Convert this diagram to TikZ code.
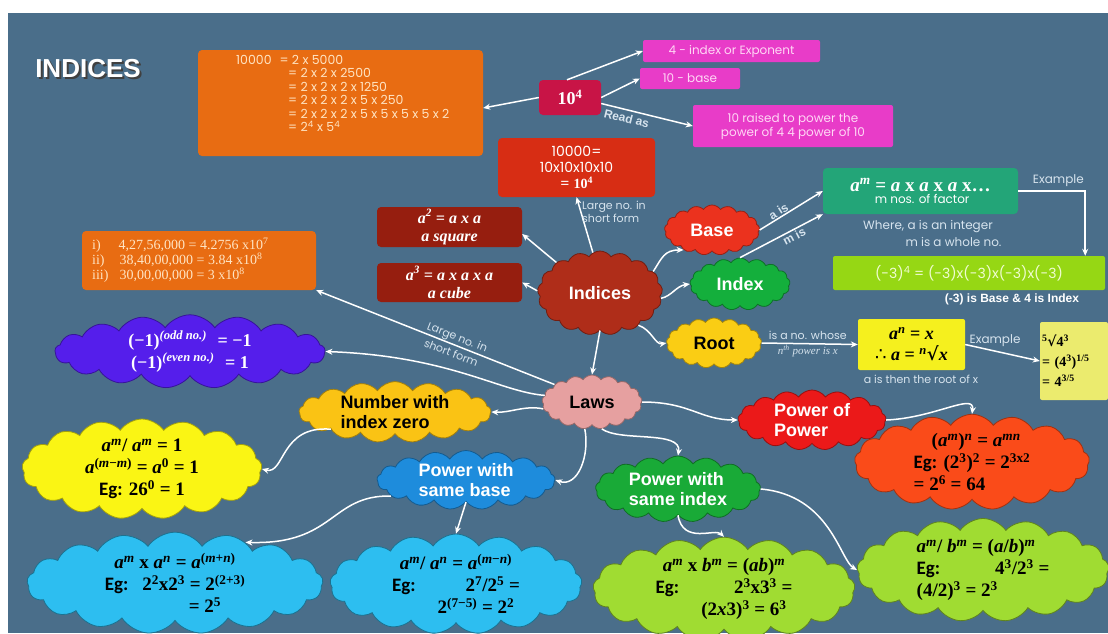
\documentclass[tikz,border=0pt]{standalone}
\usepackage{fontspec}
\newfontfamily\labfont{Liberation Sans}
\newfontfamily\gothic{Poppins}
\newfontfamily\calfont{Carlito}
\newfontfamily\mth{Liberation Serif}
\newfontfamily\dvs{DejaVu Serif}
\newfontfamily\dvsans{DejaVu Sans}
\usetikzlibrary{shapes.symbols,arrows.meta,calc}
\newcommand\setfs[2]{\fontsize{#1}{#2}\selectfont}
\newcommand\V[1]{\textit{#1}}
\newcommand\su[1]{\textsuperscript{#1}}
\definecolor{bg}{RGB}{74,110,138}
\definecolor{orng}{RGB}{232,108,18}
\definecolor{cream}{RGB}{255,228,195}
\definecolor{crim}{RGB}{200,20,70}
\definecolor{pnk}{RGB}{232,60,200}
\definecolor{pnktxt}{RGB}{255,215,245}
\definecolor{redbox}{RGB}{215,45,20}
\definecolor{indc}{RGB}{175,45,25}
\definecolor{dred}{RGB}{150,30,15}
\definecolor{lighttxt}{RGB}{215,228,238}
\definecolor{tealc}{RGB}{35,165,120}
\definecolor{gbox}{RGB}{150,215,20}
\definecolor{gboxtxt}{RGB}{240,252,210}
\definecolor{ybox}{RGB}{245,240,30}
\definecolor{pyb}{RGB}{235,235,110}
\definecolor{basec}{RGB}{235,50,30}
\definecolor{idxc}{RGB}{20,175,60}
\definecolor{rootc}{RGB}{250,205,20}
\definecolor{lawc}{RGB}{230,160,160}
\definecolor{purp}{RGB}{85,30,235}
\definecolor{numc}{RGB}{250,195,20}
\definecolor{yelc}{RGB}{250,245,20}
\definecolor{psbc}{RGB}{30,140,220}
\definecolor{cyc}{RGB}{45,190,240}
\definecolor{popc}{RGB}{235,25,25}
\definecolor{orcc}{RGB}{250,75,25}
\definecolor{psic}{RGB}{25,170,55}
\definecolor{lgc}{RGB}{160,220,50}
\begin{document}
\begin{tikzpicture}[x=1pt,y=-1pt,
  box/.style={rounded corners=4pt, inner sep=1pt, align=center},
  pbox/.style={rounded corners=2pt, inner sep=1pt, align=center, fill=pnk, text=pnktxt, font=\gothic\setfs{12}{14}},
  cl/.style={cloud, cloud puffs=17, cloud puff arc=110, cloud ignores aspect, inner sep=0pt, align=center, line width=0.8pt},
  con/.style={draw=white, line width=1.5pt, -{Stealth[length=7pt,width=6pt]}},
  lt/.style={text=lighttxt, font=\gothic\setfs{12}{14}},
  lts/.style={text=lighttxt, font=\gothic\setfs{11}{13}},
  fml/.style={font=\mth\bfseries\setfs{19}{22}},
  cltxt/.style={font=\labfont\bfseries\setfs{18}{20}},
]
\fill[white] (0,0) rectangle (1108,633);
\useasboundingbox (0,0) rectangle (1108,633);
\fill[bg] (8,13) rectangle (1108,633);

% title (shadow drawn as offset copy inside one node)
\node[text=white, font=\labfont\bfseries\setfs{26}{30}] (title) at (88,70)
 {\makebox[0pt][l]{\hspace{2pt}\raisebox{-2pt}{\color{black!75}INDICES}}INDICES};

% big orange box
\node[box, fill=orng, minimum width=285, minimum height=106] (big) at (340.5,103) {};
\node[anchor=north west, text=cream, font=\gothic\setfs{12.5}{13.4}, inner sep=0, align=left] (bigtxt) at (236,55)
 {10000\hspace{8pt}= 2 x 5000\\
 \hspace{52pt}= 2 x 2 x 2500\\
 \hspace{52pt}= 2 x 2 x 2 x 1250\\
 \hspace{52pt}= 2 x 2 x 2 x 5 x 250\\
 \hspace{52pt}= 2 x 2 x 2 x 5 x 5 x 5 x 5 x 2\\
 \hspace{52pt}= 2\su{4} x 5\su{4}};

% 10^4 and pink boxes
\node[box, fill=crim, minimum width=62, minimum height=35, text=white, font=\mth\bfseries\setfs{18}{20}] (ten) at (570,97.5) {10\su{4}};
\node[pbox, minimum width=177, minimum height=22] (p1) at (731.5,51) {4 - index or Exponent};
\node[pbox, minimum width=100, minimum height=21] (p2) at (690,78.5) {10 - base};
\node[pbox, minimum width=200, minimum height=42] (p3) at (793,126) {10 raised to power the\\power of 4 4 power of 10};
\draw[con] (ten.west) -- ($(big.east)+(0,5)$);
\draw[con] ($(ten.north)+(-3,0)$) -- (p1.west);
\draw[con] (ten.east) -- (p2.west);
\draw[con] ($(ten.east)+(0,6)$) -- (p3.west)
  node[sloped, below, pos=0.3, text=lighttxt, font=\labfont\bfseries\setfs{12}{14}] (readas) {Read as};

% red box
\node[box, fill=redbox, minimum width=157, minimum height=59, font=\gothic\setfs{14}{16}, text=white] (tenk) at (576.5,167.5) {10000=\\10x10x10x10\\= {\mth\bfseries 10\su{4}}};

% Indices cloud
\node[cl, fill=indc, draw=indc!65!black, minimum width=125, minimum height=84, text=white, cltxt] (ind) at (600,293) {Indices};
\draw[con] (ind.100) -- (tenk.south);
\node[lts, align=left] (lbl1) at (614,212) {Large no. in\\short form};

% a^2, a^3 boxes
\node[box, fill=dred, minimum width=145, minimum height=40, text=white, font=\mth\bfseries\itshape\setfs{16}{18}] (sq) at (449.5,227) {a\su{2} = a x a\\a square};
\node[box, fill=dred, minimum width=145, minimum height=39, text=white, font=\mth\bfseries\itshape\setfs{16}{18}] (cu) at (449.5,282.5) {a\su{3} = a x a x a\\a cube};
\draw[con] (ind.145) -- ($(sq.east)+(0,7)$);
\draw[con] (ind.178) -- (cu.east);

% left orange box
\node[box, fill=orng, minimum width=234, minimum height=59] (ol) at (199,260.5) {};
\node[anchor=west, text=cream, font=\mth\setfs{14}{15}, inner sep=0, align=left] (oltxt) at (92,260.5)
 {i)\hspace{18pt}4,27,56,000 = 4.2756 x10\su{7}\\
 ii)\hspace{15pt}38,40,00,000 = 3.84 x10\su{8}\\
 iii)\hspace{11pt}30,00,00,000 = 3 x10\su{8}};

% Laws cloud
\node[cl, fill=lawc, draw=lawc!65!black, minimum width=100, minimum height=54, cltxt] (laws) at (592,402) {Laws};
\draw[con] (ind.south) -- (laws.north);
\draw[con] (laws.155) -- (ol.south east)
  node[sloped, pos=0.42, inner sep=0pt, align=center, text=lighttxt, font=\gothic\setfs{11}{17}] (lbl2) {Large no. in\\short form};

% purple cloud
\node[cl, fill=purp, draw=purp!65!black, minimum width=270, minimum height=68, text=white, font=\mth\bfseries\setfs{18}{22}] (pur) at (190,351.5)
 {(−1)\su{\itshape (odd no.)}\hspace{6pt} = −1\\(−1)\su{\itshape (even no.)}\hspace{6pt} = 1};
\draw[con] (laws.172) .. controls (500,392) and (450,356) .. (pur.east);

% number with index zero
\node[cl, fill=numc, draw=numc!65!black, minimum width=192, minimum height=56, align=left, cltxt] (num) at (395,412) {Number with\\index zero};
\draw[con] (laws.188) .. controls (525,405) and (510,413) .. (num.east);
\node[cl, fill=yelc, draw=yelc!65!black, minimum width=240, minimum height=100, fml] (yel) at (142,469)
 {\V{a}\su{\V{m}}/ \V{a}\su{\V{m}} = 1\\\V{a}\su{(\V{m}−\V{m})} = \V{a}\su{0} = 1\\{\calfont Eg:} 26\su{0} = 1};
\draw[con] (num.195) .. controls (280,425) and (285,475) .. (yel.east);

% power with same base
\node[cl, fill=psbc, draw=psbc!65!black, minimum width=178, minimum height=58, align=left, text=white, cltxt] (psb) at (466,480) {Power with\\same base};
\draw[con] (laws.255) .. controls (590,455) and (578,488) .. (psb.east);
\node[cl, fill=cyc, draw=cyc!60!black, minimum width=296, minimum height=88, fml] (cy1) at (175,583)
 {\V{a}\su{\V{m}} x \V{a}\su{\V{n}} = \V{a}\su{(\V{m}+\V{n})}\\{\calfont Eg:}\hspace{14pt}2\su{2}x2\su{3} = 2\su{(2+3)}\\\hspace{60pt}= 2\su{5}};
\node[cl, fill=cyc, draw=cyc!60!black, minimum width=252, minimum height=88, fml] (cy2) at (456,584)
 {\V{a}\su{\V{m}}/ \V{a}\su{\V{n}} = \V{a}\su{(\V{m}−\V{n})}\\{\calfont Eg:}\hspace{50pt}2\su{7}/2\su{5} =\\\hspace{40pt}2\su{(7−5)} = 2\su{2}};
\draw[con] (psb.192) .. controls (330,495) and (335,545) .. (cy1.30);
\draw[con] (psb.south) -- (cy2.north);

% power of power
\node[cl, fill=popc, draw=popc!65!black, minimum width=148, minimum height=60, align=left, text=white, cltxt] (pop) at (812,420) {Power of\\Power};
\draw[con] (laws.east) .. controls (690,402) and (700,420) .. (pop.west);
\node[cl, fill=orcc, draw=orcc!65!black, minimum width=235, minimum height=87, fml, align=left] (orc) at (972,462)
 {\hspace{18pt}(\V{a}\su{\V{m}})\su{\V{n}} = \V{a}\su{\V{mn}}\\{\calfont Eg:} (2\su{3})\su{2} = 2\su{3x2}\\= 2\su{6} = 64};
\draw[con] (pop.east) .. controls (935,418) and (975,392) .. (orc.north);

% power with same index
\node[cl, fill=psic, draw=psic!65!black, minimum width=165, minimum height=66, align=left, text=white, cltxt] (psi) at (678,489) {Power with\\same index};
\draw[con] (laws.290) .. controls (620,442) and (682,430) .. (psi.north);
\node[cl, fill=lgc, draw=lgc!60!black, minimum width=262, minimum height=86, fml] (lg1) at (724,589)
 {\V{a}\su{\V{m}} x \V{b}\su{\V{m}} = (\V{ab})\su{\V{m}}\\{\calfont Eg:}\hspace{55pt}2\su{3}x3\su{3} =\\\hspace{40pt}(2\V{x}3)\su{3} = 6\su{3}};
\node[cl, fill=lgc, draw=lgc!60!black, minimum width=252, minimum height=100, fml, align=left] (lg2) at (983,570)
 {\V{a}\su{\V{m}}/ \V{b}\su{\V{m}} = (\V{a}/\V{b})\su{\V{m}}\\{\calfont Eg:}\hspace{55pt}4\su{3}/2\su{3} =\\(4/2)\su{3} = 2\su{3}};
\draw[con] (psi.south) .. controls (683,545) and (715,528) .. (lg1.north);
\draw[con] (psi.east) .. controls (830,495) and (840,560) .. (lg2.west);

% base / index / root
\node[cl, fill=basec, draw=basec!65!black, minimum width=95, minimum height=50, text=white, cltxt] (base) at (712,230) {Base};
\node[cl, fill=idxc, draw=idxc!65!black, minimum width=100, minimum height=52, text=white, cltxt] (idx) at (740,284) {Index};
\node[cl, fill=rootc, draw=rootc!65!black, minimum width=95, minimum height=50, cltxt] (root) at (714,343) {Root};
\draw[con] (ind.22) .. controls (662,258) and (664,250) .. (base.215);
\draw[con] (ind.355) .. controls (672,296) and (676,286) .. (idx.west);
\draw[con] (ind.320) .. controls (652,330) and (655,345) .. (root.west);

% teal box and green box
\node[box, fill=tealc, minimum width=195, minimum height=46, text=white] (teal) at (920.5,191)
 {{\mth\bfseries\setfs{19}{20}\V{a}\su{\V{m}} = \V{a} x \V{a} x \V{a} x…}\\{\gothic\setfs{12}{14} m nos. of factor}};
\draw[con] (base.east) -- (teal.west)
  node[sloped, above, pos=0.35, inner sep=1pt, text=lighttxt, font=\labfont\bfseries\setfs{12}{14}] (ais) {a is};
\draw[con] (idx.north) -- (teal.south west)
  node[sloped, below, pos=0.62, inner sep=1pt, text=lighttxt, font=\labfont\bfseries\setfs{12}{14}] (mis) {m is};
\node[lt] (where1) at (928,227) {Where, a is an integer};
\node[lt, anchor=east] (where2) at (1005,242) {m is a whole no.};
\node[box, rounded corners=2pt, fill=gbox, minimum width=272, minimum height=34, text=gboxtxt, font=\gothic\setfs{14}{16}] (gb) at (969,273) {(-3)\su{4} = (-3)x(-3)x(-3)x(-3)};
\draw[con] (teal.east) -| ($(gb.north east)+(-20,0)$)
  node[pos=0.3, above, lt] (ex1) {Example};
\node[text=white, font=\labfont\bfseries\setfs{12}{14}] (gbnote) at (1012,299) {(-3) is Base \& 4 is Index};

% root boxes
\node[box, rounded corners=2pt, fill=ybox, minimum width=107, minimum height=51, font=\mth\bfseries\setfs{18}{21}] (yb) at (911.5,344.5)
 {\V{a}\su{\V{n}} = \V{x}\\{\dvsans\mdseries ∴} \V{a} = \su{\V{n}}{\dvs √}\V{x}};
\draw[con] (root.east) -- (yb.west)
  node[pos=0.48, inner sep=0pt, align=center, text=lighttxt, font=\gothic\setfs{11}{15}] (whose) {is a no. whose\\{\mth\itshape n\su{th} power is x}};
\node[lts] (rootof) at (921,379) {a is then the root of x};
\node[box, rounded corners=2pt, fill=pyb, minimum width=68, minimum height=78, text width=64, align=left, font=\mth\bfseries\setfs{14}{20}] (pyb) at (1074,361)
 {\su{5}{\dvs √}4\su{3}\\= (4\su{3})\su{1/5}\\= 4\su{3/5}};
\draw[con] (yb.east) -- (pyb.west)
  node[pos=0.4, above, lt] (ex2) {Example};
\end{tikzpicture}
\end{document}
